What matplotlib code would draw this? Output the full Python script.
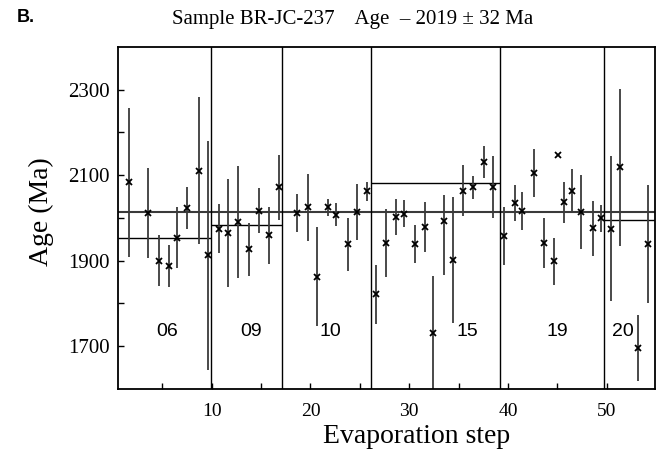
import matplotlib
matplotlib.use("Agg")
import matplotlib.pyplot as plt
import numpy as np

# ---- data ----
step = [1.59, 3.55, 4.63, 5.68, 6.52, 7.50, 8.72, 9.63,
        10.71, 11.65, 12.67, 13.78, 14.76, 15.81, 16.82,
        18.65, 19.76, 20.71, 21.79, 22.56, 23.75, 24.76, 25.77,
        26.62, 27.70, 28.71, 29.45, 30.57, 31.65, 32.42, 33.54, 34.45, 35.46, 36.48, 37.56, 38.50,
        39.58, 40.70, 41.44, 42.66, 43.67, 44.65, 45.09, 45.70, 46.51, 47.45, 48.57, 49.38,
        50.43, 51.34, 53.19, 54.21]
age = [2083, 2012, 1900, 1887, 1954, 2023, 2110, 1913,
       1975, 1965, 1990, 1927, 2017, 1959, 2072,
       2012, 2025, 1863, 2025, 2008, 1939, 2014, 2062,
       1822, 1942, 2002, 2010, 1939, 1979, 1731, 1992, 1901, 2064, 2072, 2131, 2072,
       1957, 2035, 2016, 2105, 1942, 1899, 2147, 2037, 2064, 2014, 1976, 1999,
       1975, 2118, 1695, 1939]
err_lo = [174, 105, 60, 49, 72, 49, 172, 268,
          58, 127, 131, 62, 52, 67, 76,
          45, 78, 116, 20, 26, 62, 66, 22,
          69, 79, 42, 32, 45, 58, 134, 126, 147, 60, 27, 37, 73,
          68, 42, 44, 57, 59, 55, 0, 48, 50, 87, 64, 32,
          169, 184, 77, 139]
err_hi = [174, 105, 60, 49, 72, 49, 172, 268,
          58, 127, 131, 62, 52, 67, 76,
          45, 78, 116, 20, 26, 62, 66, 22,
          69, 79, 42, 32, 45, 58, 134, 62, 147, 60, 27, 37, 73,
          68, 42, 44, 57, 59, 55, 0, 48, 50, 87, 64, 32,
          169, 184, 77, 139]

mean_age = 2015
separators = [9.97, 17.14, 26.18, 39.18, 49.75]
group_means = [1952, 1983, None, 2081, None, 1995]
group_edges = [0.5, 9.97, 17.14, 26.18, 39.18, 49.75, 54.9]
group_labels = ["06", "09", "10", "15", "19", "20"]
group_label_x = [5.5, 14.0, 22.0, 35.9, 45.0, 51.6]

title = "Sample BR-JC-237    Age  \u2013 2019 \u00b1 32 Ma"

# ---- figure ----
fig = plt.figure(figsize=(6.65, 4.55), dpi=100)
ax = fig.add_axes([0.1774, 0.145, 0.8076, 0.752])

ax.errorbar(step, age, yerr=[err_lo, err_hi], fmt='none', ecolor='#3a3a3a',
            elinewidth=1.3, capsize=0, zorder=2)
ax.plot(step, age, linestyle='none', marker='x', color='black',
        markersize=4.5, markeredgewidth=1.3, zorder=3)

ax.axhline(mean_age, color='#3a3a3a', lw=1.5, zorder=1)
for s in separators:
    ax.axvline(s, color='black', lw=1.0, zorder=1)
for i, gm in enumerate(group_means):
    if gm is not None:
        ax.hlines(gm, group_edges[i], group_edges[i + 1], color='black', lw=1.0, zorder=1)
for lab, lx in zip(group_labels, group_label_x):
    ax.text(lx, 1734, lab, ha='center', va='center', fontsize=14,
            family='Liberation Sans')

ax.set_xlim(0.5, 54.9)
ax.set_ylim(1600, 2400)

yt = np.arange(1700, 2400, 100)
ax.set_yticks(yt)
ax.set_yticklabels([str(v) if v % 200 == 100 else "" for v in yt],
                   family='Liberation Serif', fontsize=15)
xt = np.arange(5, 55, 5)
ax.set_xticks(xt)
ax.set_xticklabels([str(v) if v % 10 == 0 else "" for v in xt],
                   family='Liberation Serif', fontsize=14)
ax.tick_params(direction='in', length=4, width=1, pad=6)
ax.tick_params(axis='x', pad=10)

for sp in ax.spines.values():
    sp.set_linewidth(1.3)

fig.text(0.626, 0.040, "Evaporation step", ha='center', va='center',
         family='Liberation Serif', fontsize=20)
fig.text(0.062, 0.535, "Age (Ma)", ha='center', va='center', rotation=90,
         family='Liberation Serif', fontsize=20)

fig.text(0.531, 0.958, title, ha='center', va='center', family='Liberation Serif', fontsize=15)
fig.text(0.025, 0.962, "B.", ha='left', va='center', family='Liberation Sans',
         fontweight='bold', fontsize=13)

fig.savefig("out.png", dpi=100)
